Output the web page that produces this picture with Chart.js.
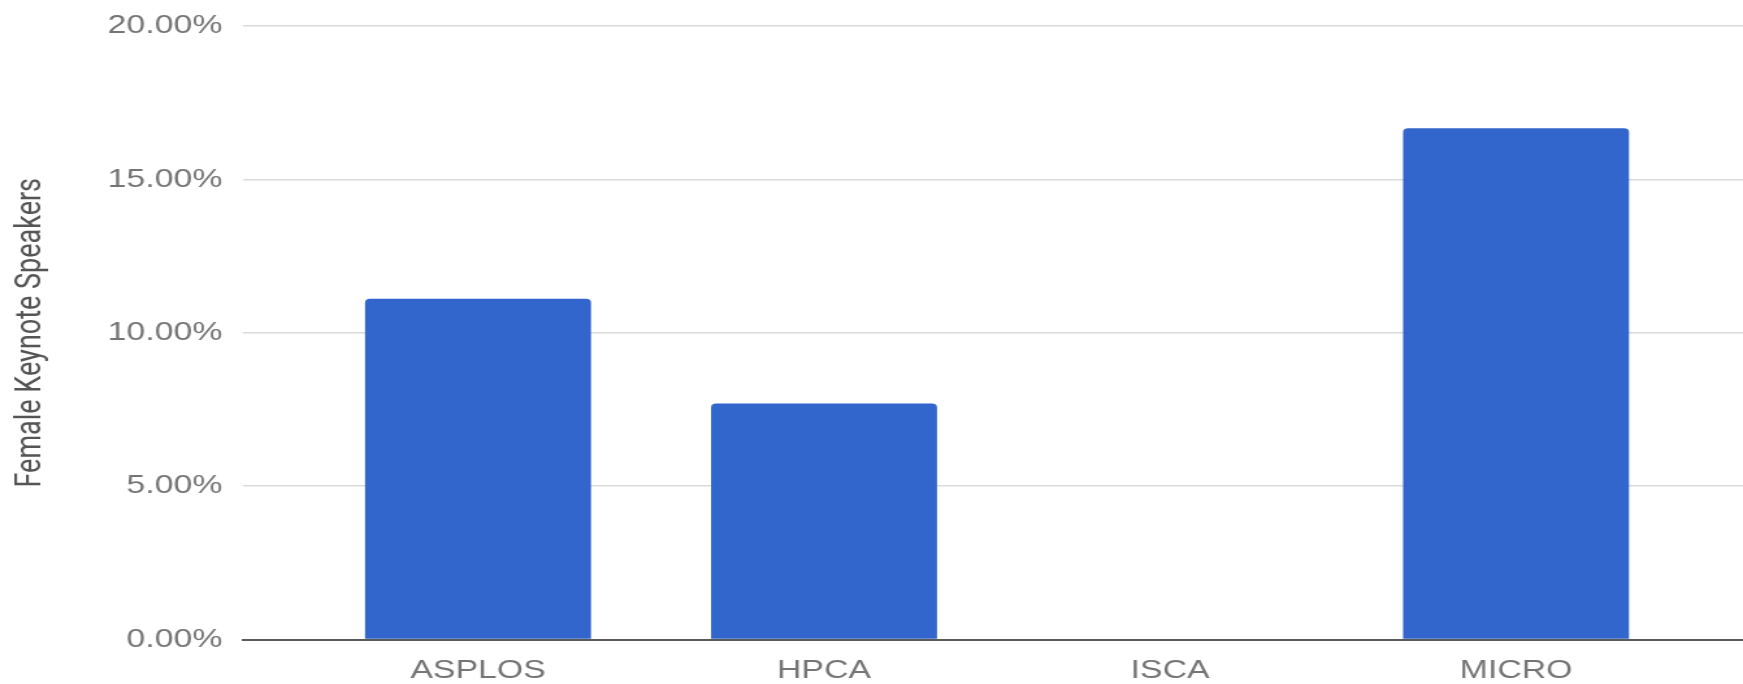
<!DOCTYPE html>
<html>
<head>
<meta charset="utf-8">
<script src="https://cdn.jsdelivr.net/npm/chart.js@4"></script>
<style>
html,body{margin:0;padding:0;background:#fff;overflow:hidden;}
/* the reference is stretched sideways, so draw narrow and widen with css */
#wrap{width:1341px;height:684px;transform:scaleX(1.2998);transform-origin:0 0;}
</style>
</head>
<body>
<div id="wrap"><canvas id="c" width="1341" height="684"></canvas></div>
<script>
/* ── data ── */
const categories=['ASPLOS','HPCA','ISCA','MICRO'];
const femaleShare=[11.11,7.69,0,16.67];   // % of keynote speakers
const yTicks=[0,5,10,15,20];
const yTitle='Female Keynote Speakers';

const tickc='#757575', gridc='#dadada', basec='#5a5a5a';
const lab="'Liberation Sans',Arial,sans-serif";

new Chart(document.getElementById('c'),{
  type:'bar',
  data:{datasets:[{
    data:femaleShare.map((v,i)=>({x:i,y:v})),
    backgroundColor:'#3366cc',
    borderRadius:{topLeft:4,topRight:4,bottomLeft:0,bottomRight:0},
    borderSkipped:'bottom',
    barPercentage:0.653,categoryPercentage:1
  }]},
  options:{
    responsive:false,animation:false,devicePixelRatio:1,
    layout:{padding:{top:26,left:0,right:0,bottom:0}},
    plugins:{legend:{display:false},tooltip:{enabled:false}},
    scales:{
      x:{type:'linear',min:-0.679,max:3.656,offset:false,z:1,
        afterBuildTicks:s=>{s.ticks=categories.map((_,i)=>({value:i}));},
        afterFit:s=>{s.height=44.5;},
        grid:{display:false,drawTicks:false},
        border:{display:true,color:basec,width:2},
        ticks:{padding:16,color:tickc,font:{family:lab,size:26},autoSkip:false,maxRotation:0,
          callback:v=>categories[v]??''}
      },
      y:{min:yTicks[0],max:yTicks[yTicks.length-1],
        afterBuildTicks:s=>{s.ticks=yTicks.map(v=>({value:v}));},
        // tick padding would otherwise push the plot top down
        afterFit:s=>{s.width=187;s.paddingTop=0;s.paddingBottom=0;},
        grid:{drawTicks:false,color:c=>c.tick&&c.tick.value===0?'rgba(0,0,0,0)':gridc,lineWidth:1.5},
        border:{display:false},
        ticks:{padding:16,color:tickc,font:{family:lab,size:26},callback:v=>v.toFixed(2)+'%'},
        title:{display:true,text:yTitle,color:'#555',font:{family:'Roboto',size:27},padding:{top:8,bottom:0}}
      }
    }
  }
});
</script>
</body>
</html>
